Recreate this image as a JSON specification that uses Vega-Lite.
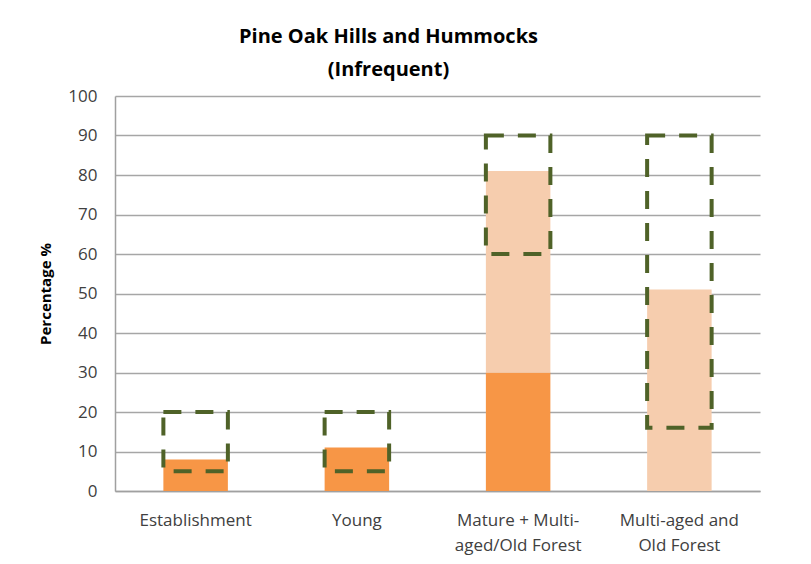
{
  "$schema": "https://vega.github.io/schema/vega-lite/v6.json",
  "width": 645,
  "height": 395,
  "autosize": {"type": "none"},
  "padding": {"left": 115, "top": 96, "right": 51, "bottom": 73},
  "background": "white",
  "title": {
    "text": ["Pine Oak Hills and Hummocks", "(Infrequent)"],
    "font": "Open Sans",
    "fontSize": 20,
    "fontWeight": "bold",
    "color": "#000000",
    "lineHeight": 33,
    "anchor": "middle",
    "dx": -49,
    "offset": 7
  },
  "data": {
    "values": [
      {"category": "Establishment", "kind": "Current", "lo": 0, "hi": 8},
      {"category": "Establishment", "kind": "Range", "lo": 5, "hi": 20},
      {"category": "Young", "kind": "Current", "lo": 0, "hi": 11},
      {"category": "Young", "kind": "Range", "lo": 5, "hi": 20},
      {"category": "Mature + Multi-aged/Old Forest", "kind": "Current", "lo": 0, "hi": 30},
      {"category": "Mature + Multi-aged/Old Forest", "kind": "Combined", "lo": 30, "hi": 81},
      {"category": "Mature + Multi-aged/Old Forest", "kind": "Range", "lo": 60, "hi": 90},
      {"category": "Multi-aged and Old Forest", "kind": "Combined", "lo": 0, "hi": 51},
      {"category": "Multi-aged and Old Forest", "kind": "Range", "lo": 16, "hi": 90}
    ]
  },
  "encoding": {
    "x": {
      "field": "category",
      "type": "nominal",
      "sort": null,
      "scale": {"paddingInner": 0.6, "paddingOuter": 0.3},
      "axis": {
        "title": null,
        "labelAngle": 0,
        "labelFont": "Open Sans",
        "labelFontSize": 17,
        "labelColor": "#404040",
        "labelPadding": 21,
        "labelLineHeight": 25,
        "labelBaseline": "top",
        "ticks": false,
        "domainColor": "#A0A0A0",
        "domainWidth": 1.5,
        "labelExpr": "datum.value == 'Mature + Multi-aged/Old Forest' ? ['Mature + Multi-', 'aged/Old Forest'] : datum.value == 'Multi-aged and Old Forest' ? ['Multi-aged and', 'Old Forest'] : datum.value"
      }
    },
    "y": {
      "field": "lo",
      "type": "quantitative",
      "scale": {"domain": [0, 100]},
      "axis": {
        "title": "Percentage %",
        "titleFont": "Open Sans",
        "titleFontSize": 15,
        "titleFontWeight": "bold",
        "titleColor": "#000000",
        "titlePadding": 14,
        "values": [0, 10, 20, 30, 40, 50, 60, 70, 80, 90, 100],
        "labelFont": "Open Sans",
        "labelFontSize": 17,
        "labelColor": "#404040",
        "labelPadding": 18,
        "ticks": false,
        "grid": true,
        "gridColor": "#A6A6A6",
        "gridWidth": 1.5,
        "domainColor": "#A0A0A0",
        "domainWidth": 1.5
      }
    },
    "y2": {"field": "hi"}
  },
  "layer": [
    {
      "transform": [{"filter": "datum.kind != 'Range'"}],
      "mark": {"type": "bar"},
      "encoding": {
        "color": {
          "field": "kind",
          "type": "nominal",
          "scale": {"domain": ["Current", "Combined"], "range": ["#F79646", "#F6CDAE"]},
          "legend": null
        }
      }
    },
    {
      "transform": [{"filter": "datum.kind == 'Range'"}],
      "mark": {
        "type": "bar",
        "fill": null,
        "fillOpacity": 0,
        "stroke": "#4F6228",
        "strokeWidth": 4,
        "strokeDash": [18, 14]
      }
    }
  ],
  "config": {"view": {"stroke": null}}
}
